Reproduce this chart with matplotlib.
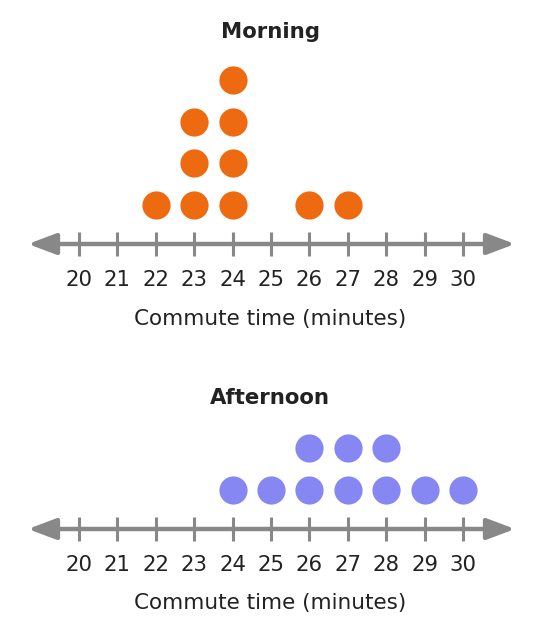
import numpy as np
import matplotlib
matplotlib.use('Agg')
import matplotlib.pyplot as plt

# data
ticks = list(range(20, 31))
morning_times = [22, 23, 24, 26, 27]
morning_counts = [1, 3, 4, 1, 1]
afternoon_times = [24, 25, 26, 27, 28, 29, 30]
afternoon_counts = [1, 1, 2, 2, 2, 1, 1]

orange = '#EE6A10'
purple = '#8687F3'
gray = '#888888'
text_col = '#222222'

W, H = 551, 626
px_x = 38.4     # pixels per minute
px_y = 41.5     # pixels per dot row
x0 = 20 - 79 / px_x
x1 = x0 + W / px_x
xmid = 24.98

fig = plt.figure(figsize=(W / 100, H / 100), dpi=100)


def panel(top, bottom, axis_y, title_y, label_y, xlabel_y, title, times, counts, color):
    ax = fig.add_axes([0, 1 - bottom / H, 1, (bottom - top) / H])
    lo = -(bottom - axis_y) / px_y
    hi = lo + (bottom - top) / px_y
    ax.set_xlim(x0, x1)
    ax.set_ylim(lo, hi)
    ax.axis('off')

    # number line with arrows
    ax.annotate('', xy=(x0 + 28 / px_x, 0), xytext=(x0 + 515 / px_x, 0),
                arrowprops=dict(arrowstyle='<|-|>,head_length=0.85,head_width=0.32',
                                color=gray, lw=3.2, shrinkA=0, shrinkB=0,
                                mutation_scale=20))
    ax.vlines(ticks, -0.29, 0.29, color=gray, lw=2.2)
    for t in ticks:
        ax.text(t, label_y, str(t), ha='center', va='center', fontsize=15.3, color=text_col)

    # dots
    for t, c in zip(times, counts):
        ys = 0.94 + np.arange(c)
        ax.plot([t] * c, ys, 'o', ms=20.3, color=color, mec='none')

    ax.text(xmid, title_y, title, ha='center', va='center',
            fontsize=15.3, fontweight='bold', color=text_col)
    ax.text(xmid, xlabel_y, 'Commute time (minutes)', ha='center', va='center',
            fontsize=15.5, color=text_col)


panel(0, 340, 244, (244 - 32) / px_y, (244 - 280) / px_y, (244 - 319) / px_y,
      'Morning', morning_times, morning_counts, orange)
panel(340, 626, 529, (529 - 398) / px_y, (529 - 565) / px_y, (529 - 603) / px_y,
      'Afternoon', afternoon_times, afternoon_counts, purple)

fig.savefig('out.png', dpi=100)
